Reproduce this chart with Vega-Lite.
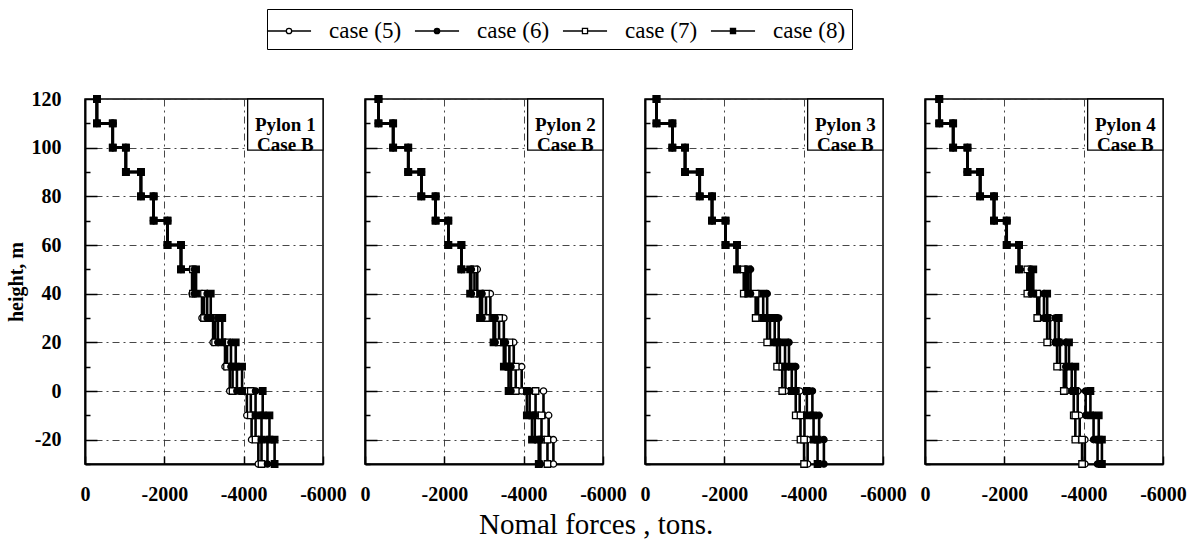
{
"$schema": "https://vega.github.io/schema/vega-lite/v6.json",
"background": "white",
"padding": {"left": 5, "top": 8, "right": 5, "bottom": 5},
"title": {"text": "Nomal forces , tons.", "orient": "bottom", "anchor": "middle", "fontSize": 29, "fontWeight": "normal", "font": "Liberation Serif", "color": "black", "offset": 6},
"config": {"font": "Liberation Serif", "view": {"stroke": "black", "strokeWidth": 1.5},
  "axis": {"labelFont": "Liberation Serif", "labelFontSize": 20, "labelFontWeight": "bold", "labelColor": "black", "titleFont": "Liberation Serif", "titleColor": "black", "domainColor": "black", "domainWidth": 2, "tickColor": "black", "tickWidth": 1.5},
  "legend": {"symbolOpacity": 1}},
"datasets": {"d": [
{"p":1,"c":"case (5)","s":1,"f":-300,"a":120,"b":110},{"p":1,"c":"case (5)","s":2,"f":-700,"a":110,"b":100},{"p":1,"c":"case (5)","s":3,"f":-1030,"a":100,"b":90},{"p":1,"c":"case (5)","s":4,"f":-1410,"a":90,"b":80},{"p":1,"c":"case (5)","s":5,"f":-1730,"a":80,"b":70},{"p":1,"c":"case (5)","s":6,"f":-2080,"a":70,"b":60},{"p":1,"c":"case (5)","s":7,"f":-2420,"a":60,"b":50},{"p":1,"c":"case (5)","s":8,"f":-2700,"a":50,"b":40},{"p":1,"c":"case (5)","s":9,"f":-2950,"a":40,"b":30},{"p":1,"c":"case (5)","s":10,"f":-3230,"a":30,"b":20},{"p":1,"c":"case (5)","s":11,"f":-3530,"a":20,"b":10},{"p":1,"c":"case (5)","s":12,"f":-3650,"a":10,"b":0},{"p":1,"c":"case (5)","s":13,"f":-4080,"a":0,"b":-10},{"p":1,"c":"case (5)","s":14,"f":-4200,"a":-10,"b":-20},{"p":1,"c":"case (5)","s":15,"f":-4370,"a":-20,"b":-30},
{"p":1,"c":"case (6)","s":1,"f":-300,"a":120,"b":110},{"p":1,"c":"case (6)","s":2,"f":-700,"a":110,"b":100},{"p":1,"c":"case (6)","s":3,"f":-1030,"a":100,"b":90},{"p":1,"c":"case (6)","s":4,"f":-1410,"a":90,"b":80},{"p":1,"c":"case (6)","s":5,"f":-1730,"a":80,"b":70},{"p":1,"c":"case (6)","s":6,"f":-2080,"a":70,"b":60},{"p":1,"c":"case (6)","s":7,"f":-2420,"a":60,"b":50},{"p":1,"c":"case (6)","s":8,"f":-2760,"a":50,"b":40},{"p":1,"c":"case (6)","s":9,"f":-3080,"a":40,"b":30},{"p":1,"c":"case (6)","s":10,"f":-3350,"a":30,"b":20},{"p":1,"c":"case (6)","s":11,"f":-3680,"a":20,"b":10},{"p":1,"c":"case (6)","s":12,"f":-3830,"a":10,"b":0},{"p":1,"c":"case (6)","s":13,"f":-4300,"a":0,"b":-10},{"p":1,"c":"case (6)","s":14,"f":-4450,"a":-10,"b":-20},{"p":1,"c":"case (6)","s":15,"f":-4600,"a":-20,"b":-30},
{"p":1,"c":"case (7)","s":1,"f":-300,"a":120,"b":110},{"p":1,"c":"case (7)","s":2,"f":-700,"a":110,"b":100},{"p":1,"c":"case (7)","s":3,"f":-1030,"a":100,"b":90},{"p":1,"c":"case (7)","s":4,"f":-1410,"a":90,"b":80},{"p":1,"c":"case (7)","s":5,"f":-1730,"a":80,"b":70},{"p":1,"c":"case (7)","s":6,"f":-2080,"a":70,"b":60},{"p":1,"c":"case (7)","s":7,"f":-2420,"a":60,"b":50},{"p":1,"c":"case (7)","s":8,"f":-2720,"a":50,"b":40},{"p":1,"c":"case (7)","s":9,"f":-3000,"a":40,"b":30},{"p":1,"c":"case (7)","s":10,"f":-3280,"a":30,"b":20},{"p":1,"c":"case (7)","s":11,"f":-3580,"a":20,"b":10},{"p":1,"c":"case (7)","s":12,"f":-3720,"a":10,"b":0},{"p":1,"c":"case (7)","s":13,"f":-4180,"a":0,"b":-10},{"p":1,"c":"case (7)","s":14,"f":-4300,"a":-10,"b":-20},{"p":1,"c":"case (7)","s":15,"f":-4450,"a":-20,"b":-30},
{"p":1,"c":"case (8)","s":1,"f":-300,"a":120,"b":110},{"p":1,"c":"case (8)","s":2,"f":-700,"a":110,"b":100},{"p":1,"c":"case (8)","s":3,"f":-1030,"a":100,"b":90},{"p":1,"c":"case (8)","s":4,"f":-1410,"a":90,"b":80},{"p":1,"c":"case (8)","s":5,"f":-1730,"a":80,"b":70},{"p":1,"c":"case (8)","s":6,"f":-2080,"a":70,"b":60},{"p":1,"c":"case (8)","s":7,"f":-2420,"a":60,"b":50},{"p":1,"c":"case (8)","s":8,"f":-2800,"a":50,"b":40},{"p":1,"c":"case (8)","s":9,"f":-3170,"a":40,"b":30},{"p":1,"c":"case (8)","s":10,"f":-3460,"a":30,"b":20},{"p":1,"c":"case (8)","s":11,"f":-3800,"a":20,"b":10},{"p":1,"c":"case (8)","s":12,"f":-3960,"a":10,"b":0},{"p":1,"c":"case (8)","s":13,"f":-4480,"a":0,"b":-10},{"p":1,"c":"case (8)","s":14,"f":-4650,"a":-10,"b":-20},{"p":1,"c":"case (8)","s":15,"f":-4780,"a":-20,"b":-30},
{"p":2,"c":"case (5)","s":1,"f":-340,"a":120,"b":110},{"p":2,"c":"case (5)","s":2,"f":-710,"a":110,"b":100},{"p":2,"c":"case (5)","s":3,"f":-1090,"a":100,"b":90},{"p":2,"c":"case (5)","s":4,"f":-1420,"a":90,"b":80},{"p":2,"c":"case (5)","s":5,"f":-1780,"a":80,"b":70},{"p":2,"c":"case (5)","s":6,"f":-2100,"a":70,"b":60},{"p":2,"c":"case (5)","s":7,"f":-2430,"a":60,"b":50},{"p":2,"c":"case (5)","s":8,"f":-2830,"a":50,"b":40},{"p":2,"c":"case (5)","s":9,"f":-3160,"a":40,"b":30},{"p":2,"c":"case (5)","s":10,"f":-3500,"a":30,"b":20},{"p":2,"c":"case (5)","s":11,"f":-3750,"a":20,"b":10},{"p":2,"c":"case (5)","s":12,"f":-3950,"a":10,"b":0},{"p":2,"c":"case (5)","s":13,"f":-4500,"a":0,"b":-10},{"p":2,"c":"case (5)","s":14,"f":-4630,"a":-10,"b":-20},{"p":2,"c":"case (5)","s":15,"f":-4750,"a":-20,"b":-30},
{"p":2,"c":"case (6)","s":1,"f":-340,"a":120,"b":110},{"p":2,"c":"case (6)","s":2,"f":-710,"a":110,"b":100},{"p":2,"c":"case (6)","s":3,"f":-1090,"a":100,"b":90},{"p":2,"c":"case (6)","s":4,"f":-1420,"a":90,"b":80},{"p":2,"c":"case (6)","s":5,"f":-1780,"a":80,"b":70},{"p":2,"c":"case (6)","s":6,"f":-2100,"a":70,"b":60},{"p":2,"c":"case (6)","s":7,"f":-2430,"a":60,"b":50},{"p":2,"c":"case (6)","s":8,"f":-2680,"a":50,"b":40},{"p":2,"c":"case (6)","s":9,"f":-2950,"a":40,"b":30},{"p":2,"c":"case (6)","s":10,"f":-3280,"a":30,"b":20},{"p":2,"c":"case (6)","s":11,"f":-3540,"a":20,"b":10},{"p":2,"c":"case (6)","s":12,"f":-3680,"a":10,"b":0},{"p":2,"c":"case (6)","s":13,"f":-4150,"a":0,"b":-10},{"p":2,"c":"case (6)","s":14,"f":-4280,"a":-10,"b":-20},{"p":2,"c":"case (6)","s":15,"f":-4420,"a":-20,"b":-30},
{"p":2,"c":"case (7)","s":1,"f":-340,"a":120,"b":110},{"p":2,"c":"case (7)","s":2,"f":-710,"a":110,"b":100},{"p":2,"c":"case (7)","s":3,"f":-1090,"a":100,"b":90},{"p":2,"c":"case (7)","s":4,"f":-1420,"a":90,"b":80},{"p":2,"c":"case (7)","s":5,"f":-1780,"a":80,"b":70},{"p":2,"c":"case (7)","s":6,"f":-2100,"a":70,"b":60},{"p":2,"c":"case (7)","s":7,"f":-2430,"a":60,"b":50},{"p":2,"c":"case (7)","s":8,"f":-2760,"a":50,"b":40},{"p":2,"c":"case (7)","s":9,"f":-3050,"a":40,"b":30},{"p":2,"c":"case (7)","s":10,"f":-3380,"a":30,"b":20},{"p":2,"c":"case (7)","s":11,"f":-3640,"a":20,"b":10},{"p":2,"c":"case (7)","s":12,"f":-3800,"a":10,"b":0},{"p":2,"c":"case (7)","s":13,"f":-4300,"a":0,"b":-10},{"p":2,"c":"case (7)","s":14,"f":-4450,"a":-10,"b":-20},{"p":2,"c":"case (7)","s":15,"f":-4600,"a":-20,"b":-30},
{"p":2,"c":"case (8)","s":1,"f":-340,"a":120,"b":110},{"p":2,"c":"case (8)","s":2,"f":-710,"a":110,"b":100},{"p":2,"c":"case (8)","s":3,"f":-1090,"a":100,"b":90},{"p":2,"c":"case (8)","s":4,"f":-1420,"a":90,"b":80},{"p":2,"c":"case (8)","s":5,"f":-1780,"a":80,"b":70},{"p":2,"c":"case (8)","s":6,"f":-2100,"a":70,"b":60},{"p":2,"c":"case (8)","s":7,"f":-2430,"a":60,"b":50},{"p":2,"c":"case (8)","s":8,"f":-2650,"a":50,"b":40},{"p":2,"c":"case (8)","s":9,"f":-2900,"a":40,"b":30},{"p":2,"c":"case (8)","s":10,"f":-3240,"a":30,"b":20},{"p":2,"c":"case (8)","s":11,"f":-3500,"a":20,"b":10},{"p":2,"c":"case (8)","s":12,"f":-3620,"a":10,"b":0},{"p":2,"c":"case (8)","s":13,"f":-4080,"a":0,"b":-10},{"p":2,"c":"case (8)","s":14,"f":-4210,"a":-10,"b":-20},{"p":2,"c":"case (8)","s":15,"f":-4380,"a":-20,"b":-30},
{"p":3,"c":"case (5)","s":1,"f":-290,"a":120,"b":110},{"p":3,"c":"case (5)","s":2,"f":-690,"a":110,"b":100},{"p":3,"c":"case (5)","s":3,"f":-1010,"a":100,"b":90},{"p":3,"c":"case (5)","s":4,"f":-1380,"a":90,"b":80},{"p":3,"c":"case (5)","s":5,"f":-1690,"a":80,"b":70},{"p":3,"c":"case (5)","s":6,"f":-2030,"a":70,"b":60},{"p":3,"c":"case (5)","s":7,"f":-2320,"a":60,"b":50},{"p":3,"c":"case (5)","s":8,"f":-2540,"a":50,"b":40},{"p":3,"c":"case (5)","s":9,"f":-2850,"a":40,"b":30},{"p":3,"c":"case (5)","s":10,"f":-3150,"a":30,"b":20},{"p":3,"c":"case (5)","s":11,"f":-3400,"a":20,"b":10},{"p":3,"c":"case (5)","s":12,"f":-3540,"a":10,"b":0},{"p":3,"c":"case (5)","s":13,"f":-3900,"a":0,"b":-10},{"p":3,"c":"case (5)","s":14,"f":-4020,"a":-10,"b":-20},{"p":3,"c":"case (5)","s":15,"f":-4100,"a":-20,"b":-30},
{"p":3,"c":"case (6)","s":1,"f":-290,"a":120,"b":110},{"p":3,"c":"case (6)","s":2,"f":-690,"a":110,"b":100},{"p":3,"c":"case (6)","s":3,"f":-1010,"a":100,"b":90},{"p":3,"c":"case (6)","s":4,"f":-1380,"a":90,"b":80},{"p":3,"c":"case (6)","s":5,"f":-1690,"a":80,"b":70},{"p":3,"c":"case (6)","s":6,"f":-2030,"a":70,"b":60},{"p":3,"c":"case (6)","s":7,"f":-2320,"a":60,"b":50},{"p":3,"c":"case (6)","s":8,"f":-2660,"a":50,"b":40},{"p":3,"c":"case (6)","s":9,"f":-3080,"a":40,"b":30},{"p":3,"c":"case (6)","s":10,"f":-3370,"a":30,"b":20},{"p":3,"c":"case (6)","s":11,"f":-3630,"a":20,"b":10},{"p":3,"c":"case (6)","s":12,"f":-3800,"a":10,"b":0},{"p":3,"c":"case (6)","s":13,"f":-4220,"a":0,"b":-10},{"p":3,"c":"case (6)","s":14,"f":-4390,"a":-10,"b":-20},{"p":3,"c":"case (6)","s":15,"f":-4510,"a":-20,"b":-30},
{"p":3,"c":"case (7)","s":1,"f":-290,"a":120,"b":110},{"p":3,"c":"case (7)","s":2,"f":-690,"a":110,"b":100},{"p":3,"c":"case (7)","s":3,"f":-1010,"a":100,"b":90},{"p":3,"c":"case (7)","s":4,"f":-1380,"a":90,"b":80},{"p":3,"c":"case (7)","s":5,"f":-1690,"a":80,"b":70},{"p":3,"c":"case (7)","s":6,"f":-2030,"a":70,"b":60},{"p":3,"c":"case (7)","s":7,"f":-2320,"a":60,"b":50},{"p":3,"c":"case (7)","s":8,"f":-2490,"a":50,"b":40},{"p":3,"c":"case (7)","s":9,"f":-2790,"a":40,"b":30},{"p":3,"c":"case (7)","s":10,"f":-3080,"a":30,"b":20},{"p":3,"c":"case (7)","s":11,"f":-3330,"a":20,"b":10},{"p":3,"c":"case (7)","s":12,"f":-3460,"a":10,"b":0},{"p":3,"c":"case (7)","s":13,"f":-3800,"a":0,"b":-10},{"p":3,"c":"case (7)","s":14,"f":-3920,"a":-10,"b":-20},{"p":3,"c":"case (7)","s":15,"f":-4010,"a":-20,"b":-30},
{"p":3,"c":"case (8)","s":1,"f":-290,"a":120,"b":110},{"p":3,"c":"case (8)","s":2,"f":-690,"a":110,"b":100},{"p":3,"c":"case (8)","s":3,"f":-1010,"a":100,"b":90},{"p":3,"c":"case (8)","s":4,"f":-1380,"a":90,"b":80},{"p":3,"c":"case (8)","s":5,"f":-1690,"a":80,"b":70},{"p":3,"c":"case (8)","s":6,"f":-2030,"a":70,"b":60},{"p":3,"c":"case (8)","s":7,"f":-2320,"a":60,"b":50},{"p":3,"c":"case (8)","s":8,"f":-2600,"a":50,"b":40},{"p":3,"c":"case (8)","s":9,"f":-2980,"a":40,"b":30},{"p":3,"c":"case (8)","s":10,"f":-3270,"a":30,"b":20},{"p":3,"c":"case (8)","s":11,"f":-3530,"a":20,"b":10},{"p":3,"c":"case (8)","s":12,"f":-3700,"a":10,"b":0},{"p":3,"c":"case (8)","s":13,"f":-4080,"a":0,"b":-10},{"p":3,"c":"case (8)","s":14,"f":-4250,"a":-10,"b":-20},{"p":3,"c":"case (8)","s":15,"f":-4350,"a":-20,"b":-30},
{"p":4,"c":"case (5)","s":1,"f":-360,"a":120,"b":110},{"p":4,"c":"case (5)","s":2,"f":-710,"a":110,"b":100},{"p":4,"c":"case (5)","s":3,"f":-1070,"a":100,"b":90},{"p":4,"c":"case (5)","s":4,"f":-1390,"a":90,"b":80},{"p":4,"c":"case (5)","s":5,"f":-1740,"a":80,"b":70},{"p":4,"c":"case (5)","s":6,"f":-2060,"a":70,"b":60},{"p":4,"c":"case (5)","s":7,"f":-2370,"a":60,"b":50},{"p":4,"c":"case (5)","s":8,"f":-2620,"a":50,"b":40},{"p":4,"c":"case (5)","s":9,"f":-2880,"a":40,"b":30},{"p":4,"c":"case (5)","s":10,"f":-3150,"a":30,"b":20},{"p":4,"c":"case (5)","s":11,"f":-3400,"a":20,"b":10},{"p":4,"c":"case (5)","s":12,"f":-3560,"a":10,"b":0},{"p":4,"c":"case (5)","s":13,"f":-3850,"a":0,"b":-10},{"p":4,"c":"case (5)","s":14,"f":-3900,"a":-10,"b":-20},{"p":4,"c":"case (5)","s":15,"f":-4030,"a":-20,"b":-30},
{"p":4,"c":"case (6)","s":1,"f":-360,"a":120,"b":110},{"p":4,"c":"case (6)","s":2,"f":-710,"a":110,"b":100},{"p":4,"c":"case (6)","s":3,"f":-1070,"a":100,"b":90},{"p":4,"c":"case (6)","s":4,"f":-1390,"a":90,"b":80},{"p":4,"c":"case (6)","s":5,"f":-1740,"a":80,"b":70},{"p":4,"c":"case (6)","s":6,"f":-2060,"a":70,"b":60},{"p":4,"c":"case (6)","s":7,"f":-2370,"a":60,"b":50},{"p":4,"c":"case (6)","s":8,"f":-2680,"a":50,"b":40},{"p":4,"c":"case (6)","s":9,"f":-3000,"a":40,"b":30},{"p":4,"c":"case (6)","s":10,"f":-3280,"a":30,"b":20},{"p":4,"c":"case (6)","s":11,"f":-3550,"a":20,"b":10},{"p":4,"c":"case (6)","s":12,"f":-3700,"a":10,"b":0},{"p":4,"c":"case (6)","s":13,"f":-4050,"a":0,"b":-10},{"p":4,"c":"case (6)","s":14,"f":-4250,"a":-10,"b":-20},{"p":4,"c":"case (6)","s":15,"f":-4350,"a":-20,"b":-30},
{"p":4,"c":"case (7)","s":1,"f":-360,"a":120,"b":110},{"p":4,"c":"case (7)","s":2,"f":-710,"a":110,"b":100},{"p":4,"c":"case (7)","s":3,"f":-1070,"a":100,"b":90},{"p":4,"c":"case (7)","s":4,"f":-1390,"a":90,"b":80},{"p":4,"c":"case (7)","s":5,"f":-1740,"a":80,"b":70},{"p":4,"c":"case (7)","s":6,"f":-2060,"a":70,"b":60},{"p":4,"c":"case (7)","s":7,"f":-2370,"a":60,"b":50},{"p":4,"c":"case (7)","s":8,"f":-2580,"a":50,"b":40},{"p":4,"c":"case (7)","s":9,"f":-2830,"a":40,"b":30},{"p":4,"c":"case (7)","s":10,"f":-3080,"a":30,"b":20},{"p":4,"c":"case (7)","s":11,"f":-3330,"a":20,"b":10},{"p":4,"c":"case (7)","s":12,"f":-3500,"a":10,"b":0},{"p":4,"c":"case (7)","s":13,"f":-3750,"a":0,"b":-10},{"p":4,"c":"case (7)","s":14,"f":-3790,"a":-10,"b":-20},{"p":4,"c":"case (7)","s":15,"f":-3960,"a":-20,"b":-30},
{"p":4,"c":"case (8)","s":1,"f":-360,"a":120,"b":110},{"p":4,"c":"case (8)","s":2,"f":-710,"a":110,"b":100},{"p":4,"c":"case (8)","s":3,"f":-1070,"a":100,"b":90},{"p":4,"c":"case (8)","s":4,"f":-1390,"a":90,"b":80},{"p":4,"c":"case (8)","s":5,"f":-1740,"a":80,"b":70},{"p":4,"c":"case (8)","s":6,"f":-2060,"a":70,"b":60},{"p":4,"c":"case (8)","s":7,"f":-2370,"a":60,"b":50},{"p":4,"c":"case (8)","s":8,"f":-2730,"a":50,"b":40},{"p":4,"c":"case (8)","s":9,"f":-3080,"a":40,"b":30},{"p":4,"c":"case (8)","s":10,"f":-3370,"a":30,"b":20},{"p":4,"c":"case (8)","s":11,"f":-3630,"a":20,"b":10},{"p":4,"c":"case (8)","s":12,"f":-3790,"a":10,"b":0},{"p":4,"c":"case (8)","s":13,"f":-4170,"a":0,"b":-10},{"p":4,"c":"case (8)","s":14,"f":-4380,"a":-10,"b":-20},{"p":4,"c":"case (8)","s":15,"f":-4460,"a":-20,"b":-30}
]},
"spacing": 42,
"bounds": "flush",
"hconcat": [
{"width": 238, "height": 365, "resolve": {"axis": {"y": "independent"}}, "layer": [
 {"data": {"name": "d"}, "transform": [{"filter": "datum.p == 1"}, {"fold": ["a", "b"], "as": ["k", "h"]}],
  "mark": {"type": "line", "color": "black", "strokeWidth": 2.6},
  "encoding": {
   "x": {"field": "f", "type": "quantitative", "scale": {"domain": [-6000, 0], "reverse": true, "nice": false, "zero": false},
    "axis": {"values": [-6000,-5000,-4000,-3000,-2000,-1000,0], "labelExpr": "datum.value % 2000 == 0 ? '' + datum.value : ''", "title": null, "grid": true, "gridColor": "#333", "gridDash": [7,4,2,4], "gridWidth": 0.9, "gridOpacity": {"condition": {"test": "datum.value == -2000 || datum.value == -4000", "value": 1}, "value": 0}, "tickSize": -8, "labelPadding": 28, "labelOverlap": false, "labelFlush": false}},
   "y": {"field": "h", "type": "quantitative", "scale": {"domain": [-30, 120], "nice": false, "zero": false},
    "axis": {"orient": "left", "values": [-20,0,20,40,60,80,100,120], "labelExpr": "'' + datum.value", "title": "height, m", "titleFontSize": 20, "titleFontWeight": "bold", "titlePadding": 5, "grid": true, "gridColor": "#333", "gridDash": [7,4,2,4], "gridWidth": 0.9, "tickSize": -12, "labelPadding": 36, "labelOverlap": false}},
   "detail": {"field": "c"},
   "order": [{"field": "s", "type": "quantitative"}, {"field": "k", "type": "nominal"}]}},
 {"data": {"name": "d"}, "transform": [{"filter": "datum.p == 1 && datum.c == 'case (5)'"}, {"fold": ["a", "b"], "as": ["k", "h"]}], "mark": {"type": "point", "shape": "circle", "filled": true, "fill": "white", "stroke": "black", "strokeWidth": 1.3, "size": 40, "opacity": 1}, "encoding": {"x": {"field": "f", "type": "quantitative"}, "y": {"field": "h", "type": "quantitative", "axis": {"orient": "left", "values": [-30,-10,10,30,50,70,90,110], "labels": false, "title": null, "grid": false, "domain": false, "tickSize": -5}}}},
 {"data": {"name": "d"}, "transform": [{"filter": "datum.p == 1 && datum.c == 'case (7)'"}, {"fold": ["a", "b"], "as": ["k", "h"]}], "mark": {"type": "point", "shape": "square", "filled": true, "fill": "white", "stroke": "black", "strokeWidth": 1.3, "size": 42, "opacity": 1}, "encoding": {"x": {"field": "f", "type": "quantitative"}, "y": {"field": "h", "type": "quantitative", "axis": null}}},
 {"data": {"name": "d"}, "transform": [{"filter": "datum.p == 1 && datum.c == 'case (6)'"}, {"fold": ["a", "b"], "as": ["k", "h"]}], "mark": {"type": "point", "shape": "circle", "filled": true, "fill": "black", "stroke": "black", "strokeWidth": 1.3, "size": 40, "opacity": 1}, "encoding": {"x": {"field": "f", "type": "quantitative"}, "y": {"field": "h", "type": "quantitative", "axis": null}}},
 {"data": {"name": "d"}, "transform": [{"filter": "datum.p == 1 && datum.c == 'case (8)'"}, {"fold": ["a", "b"], "as": ["k", "h"]}], "mark": {"type": "point", "shape": "square", "filled": true, "fill": "black", "stroke": "black", "strokeWidth": 1.3, "size": 42, "opacity": 1}, "encoding": {"x": {"field": "f", "type": "quantitative"}, "y": {"field": "h", "type": "quantitative", "axis": null}}},
 {"data": {"name": "d"}, "transform": [{"filter": "datum.p == 1"}],
  "mark": {"type": "point", "filled": false, "color": "black", "strokeWidth": 1.3, "opacity": 0},
  "encoding": {"x": {"field": "f", "type": "quantitative"}, "y": {"field": "a", "type": "quantitative", "axis": null},
   "shape": {"field": "c", "type": "nominal", "scale": {"domain": ["case (5)", "case (6)", "case (7)", "case (8)"], "range": [
     "M-1.47,0L-0.18,0M0.18,0L1.47,0M0.18,0A0.18,0.18,0,1,1,-0.18,0A0.18,0.18,0,1,1,0.18,0Z",
     "M-1.47,0L-0.18,0M0.18,0L1.47,0M0.18,0A0.18,0.18,0,1,1,-0.18,0A0.18,0.18,0,1,1,0.18,0ZM0.12,0A0.12,0.12,0,1,1,-0.12,0A0.12,0.12,0,1,1,0.12,0ZM0.06,0A0.06,0.06,0,1,1,-0.06,0A0.06,0.06,0,1,1,0.06,0Z",
     "M-1.47,0L-0.17,0M0.17,0L1.47,0M-0.17,-0.17L0.17,-0.17L0.17,0.17L-0.17,0.17Z",
     "M-1.47,0L-0.17,0M0.17,0L1.47,0M-0.17,-0.17L0.17,-0.17L0.17,0.17L-0.17,0.17ZM-0.11,-0.11L0.11,-0.11L0.11,0.11L-0.11,0.11ZM-0.05,-0.05L0.05,-0.05L0.05,0.05L-0.05,0.05Z"]},
    "legend": {"title": null, "orient": "none", "legendX": 182, "legendY": -90, "direction": "horizontal", "symbolSize": 900, "symbolStrokeWidth": 1.3, "symbolStrokeColor": "black", "symbolOpacity": 1, "labelFont": "Liberation Serif", "labelFontSize": 23, "labelColor": "black", "labelOffset": 24, "columnPadding": 10, "strokeColor": "black", "padding": 6}}}},
 {"data": {"values": [{}]}, "mark": {"type": "rect", "fill": "white", "stroke": "black", "strokeWidth": 1.3}, "encoding": {"x": {"datum": -4100, "type": "quantitative"}, "x2": {"datum": -6000}, "y": {"datum": 99, "type": "quantitative", "axis": null}, "y2": {"datum": 120}}},
 {"data": {"values": [{}]}, "mark": {"type": "text", "text": ["Pylon 1", "Case B"], "font": "Liberation Serif", "fontSize": 19, "fontWeight": "bold", "lineHeight": 20, "color": "black", "align": "center", "baseline": "middle"}, "encoding": {"x": {"datum": -5050, "type": "quantitative"}, "y": {"datum": 109.5, "type": "quantitative", "axis": null}}}
]},
{"width": 238, "height": 365, "resolve": {"axis": {"y": "independent"}}, "layer": [
 {"data": {"name": "d"}, "transform": [{"filter": "datum.p == 2"}, {"fold": ["a", "b"], "as": ["k", "h"]}],
  "mark": {"type": "line", "color": "black", "strokeWidth": 2.6},
  "encoding": {
   "x": {"field": "f", "type": "quantitative", "scale": {"domain": [-6000, 0], "reverse": true, "nice": false, "zero": false},
    "axis": {"values": [-6000,-5000,-4000,-3000,-2000,-1000,0], "labelExpr": "datum.value % 2000 == 0 ? '' + datum.value : ''", "title": null, "grid": true, "gridColor": "#333", "gridDash": [7,4,2,4], "gridWidth": 0.9, "gridOpacity": {"condition": {"test": "datum.value == -2000 || datum.value == -4000", "value": 1}, "value": 0}, "tickSize": -8, "labelPadding": 28, "labelOverlap": false, "labelFlush": false}},
   "y": {"field": "h", "type": "quantitative", "scale": {"domain": [-30, 120], "nice": false, "zero": false},
    "axis": {"orient": "left", "values": [-20,0,20,40,60,80,100,120], "labels": false, "title": null, "grid": true, "gridColor": "#333", "gridDash": [7,4,2,4], "gridWidth": 0.9, "tickSize": -12}},
   "detail": {"field": "c"},
   "order": [{"field": "s", "type": "quantitative"}, {"field": "k", "type": "nominal"}]}},
 {"data": {"name": "d"}, "transform": [{"filter": "datum.p == 2 && datum.c == 'case (5)'"}, {"fold": ["a", "b"], "as": ["k", "h"]}], "mark": {"type": "point", "shape": "circle", "filled": true, "fill": "white", "stroke": "black", "strokeWidth": 1.3, "size": 40, "opacity": 1}, "encoding": {"x": {"field": "f", "type": "quantitative"}, "y": {"field": "h", "type": "quantitative", "axis": {"orient": "left", "values": [-30,-10,10,30,50,70,90,110], "labels": false, "title": null, "grid": false, "domain": false, "tickSize": -5}}}},
 {"data": {"name": "d"}, "transform": [{"filter": "datum.p == 2 && datum.c == 'case (7)'"}, {"fold": ["a", "b"], "as": ["k", "h"]}], "mark": {"type": "point", "shape": "square", "filled": true, "fill": "white", "stroke": "black", "strokeWidth": 1.3, "size": 42, "opacity": 1}, "encoding": {"x": {"field": "f", "type": "quantitative"}, "y": {"field": "h", "type": "quantitative", "axis": null}}},
 {"data": {"name": "d"}, "transform": [{"filter": "datum.p == 2 && datum.c == 'case (6)'"}, {"fold": ["a", "b"], "as": ["k", "h"]}], "mark": {"type": "point", "shape": "circle", "filled": true, "fill": "black", "stroke": "black", "strokeWidth": 1.3, "size": 40, "opacity": 1}, "encoding": {"x": {"field": "f", "type": "quantitative"}, "y": {"field": "h", "type": "quantitative", "axis": null}}},
 {"data": {"name": "d"}, "transform": [{"filter": "datum.p == 2 && datum.c == 'case (8)'"}, {"fold": ["a", "b"], "as": ["k", "h"]}], "mark": {"type": "point", "shape": "square", "filled": true, "fill": "black", "stroke": "black", "strokeWidth": 1.3, "size": 42, "opacity": 1}, "encoding": {"x": {"field": "f", "type": "quantitative"}, "y": {"field": "h", "type": "quantitative", "axis": null}}},
 {"data": {"values": [{}]}, "mark": {"type": "rect", "fill": "white", "stroke": "black", "strokeWidth": 1.3}, "encoding": {"x": {"datum": -4100, "type": "quantitative"}, "x2": {"datum": -6000}, "y": {"datum": 99, "type": "quantitative", "axis": null}, "y2": {"datum": 120}}},
 {"data": {"values": [{}]}, "mark": {"type": "text", "text": ["Pylon 2", "Case B"], "font": "Liberation Serif", "fontSize": 19, "fontWeight": "bold", "lineHeight": 20, "color": "black", "align": "center", "baseline": "middle"}, "encoding": {"x": {"datum": -5050, "type": "quantitative"}, "y": {"datum": 109.5, "type": "quantitative", "axis": null}}}
]},
{"width": 238, "height": 365, "resolve": {"axis": {"y": "independent"}}, "layer": [
 {"data": {"name": "d"}, "transform": [{"filter": "datum.p == 3"}, {"fold": ["a", "b"], "as": ["k", "h"]}],
  "mark": {"type": "line", "color": "black", "strokeWidth": 2.6},
  "encoding": {
   "x": {"field": "f", "type": "quantitative", "scale": {"domain": [-6000, 0], "reverse": true, "nice": false, "zero": false},
    "axis": {"values": [-6000,-5000,-4000,-3000,-2000,-1000,0], "labelExpr": "datum.value % 2000 == 0 ? '' + datum.value : ''", "title": null, "grid": true, "gridColor": "#333", "gridDash": [7,4,2,4], "gridWidth": 0.9, "gridOpacity": {"condition": {"test": "datum.value == -2000 || datum.value == -4000", "value": 1}, "value": 0}, "tickSize": -8, "labelPadding": 28, "labelOverlap": false, "labelFlush": false}},
   "y": {"field": "h", "type": "quantitative", "scale": {"domain": [-30, 120], "nice": false, "zero": false},
    "axis": {"orient": "left", "values": [-20,0,20,40,60,80,100,120], "labels": false, "title": null, "grid": true, "gridColor": "#333", "gridDash": [7,4,2,4], "gridWidth": 0.9, "tickSize": -12}},
   "detail": {"field": "c"},
   "order": [{"field": "s", "type": "quantitative"}, {"field": "k", "type": "nominal"}]}},
 {"data": {"name": "d"}, "transform": [{"filter": "datum.p == 3 && datum.c == 'case (5)'"}, {"fold": ["a", "b"], "as": ["k", "h"]}], "mark": {"type": "point", "shape": "circle", "filled": true, "fill": "white", "stroke": "black", "strokeWidth": 1.3, "size": 40, "opacity": 1}, "encoding": {"x": {"field": "f", "type": "quantitative"}, "y": {"field": "h", "type": "quantitative", "axis": {"orient": "left", "values": [-30,-10,10,30,50,70,90,110], "labels": false, "title": null, "grid": false, "domain": false, "tickSize": -5}}}},
 {"data": {"name": "d"}, "transform": [{"filter": "datum.p == 3 && datum.c == 'case (7)'"}, {"fold": ["a", "b"], "as": ["k", "h"]}], "mark": {"type": "point", "shape": "square", "filled": true, "fill": "white", "stroke": "black", "strokeWidth": 1.3, "size": 42, "opacity": 1}, "encoding": {"x": {"field": "f", "type": "quantitative"}, "y": {"field": "h", "type": "quantitative", "axis": null}}},
 {"data": {"name": "d"}, "transform": [{"filter": "datum.p == 3 && datum.c == 'case (6)'"}, {"fold": ["a", "b"], "as": ["k", "h"]}], "mark": {"type": "point", "shape": "circle", "filled": true, "fill": "black", "stroke": "black", "strokeWidth": 1.3, "size": 40, "opacity": 1}, "encoding": {"x": {"field": "f", "type": "quantitative"}, "y": {"field": "h", "type": "quantitative", "axis": null}}},
 {"data": {"name": "d"}, "transform": [{"filter": "datum.p == 3 && datum.c == 'case (8)'"}, {"fold": ["a", "b"], "as": ["k", "h"]}], "mark": {"type": "point", "shape": "square", "filled": true, "fill": "black", "stroke": "black", "strokeWidth": 1.3, "size": 42, "opacity": 1}, "encoding": {"x": {"field": "f", "type": "quantitative"}, "y": {"field": "h", "type": "quantitative", "axis": null}}},
 {"data": {"values": [{}]}, "mark": {"type": "rect", "fill": "white", "stroke": "black", "strokeWidth": 1.3}, "encoding": {"x": {"datum": -4100, "type": "quantitative"}, "x2": {"datum": -6000}, "y": {"datum": 99, "type": "quantitative", "axis": null}, "y2": {"datum": 120}}},
 {"data": {"values": [{}]}, "mark": {"type": "text", "text": ["Pylon 3", "Case B"], "font": "Liberation Serif", "fontSize": 19, "fontWeight": "bold", "lineHeight": 20, "color": "black", "align": "center", "baseline": "middle"}, "encoding": {"x": {"datum": -5050, "type": "quantitative"}, "y": {"datum": 109.5, "type": "quantitative", "axis": null}}}
]},
{"width": 238, "height": 365, "resolve": {"axis": {"y": "independent"}}, "layer": [
 {"data": {"name": "d"}, "transform": [{"filter": "datum.p == 4"}, {"fold": ["a", "b"], "as": ["k", "h"]}],
  "mark": {"type": "line", "color": "black", "strokeWidth": 2.6},
  "encoding": {
   "x": {"field": "f", "type": "quantitative", "scale": {"domain": [-6000, 0], "reverse": true, "nice": false, "zero": false},
    "axis": {"values": [-6000,-5000,-4000,-3000,-2000,-1000,0], "labelExpr": "datum.value % 2000 == 0 ? '' + datum.value : ''", "title": null, "grid": true, "gridColor": "#333", "gridDash": [7,4,2,4], "gridWidth": 0.9, "gridOpacity": {"condition": {"test": "datum.value == -2000 || datum.value == -4000", "value": 1}, "value": 0}, "tickSize": -8, "labelPadding": 28, "labelOverlap": false, "labelFlush": false}},
   "y": {"field": "h", "type": "quantitative", "scale": {"domain": [-30, 120], "nice": false, "zero": false},
    "axis": {"orient": "left", "values": [-20,0,20,40,60,80,100,120], "labels": false, "title": null, "grid": true, "gridColor": "#333", "gridDash": [7,4,2,4], "gridWidth": 0.9, "tickSize": -12}},
   "detail": {"field": "c"},
   "order": [{"field": "s", "type": "quantitative"}, {"field": "k", "type": "nominal"}]}},
 {"data": {"name": "d"}, "transform": [{"filter": "datum.p == 4 && datum.c == 'case (5)'"}, {"fold": ["a", "b"], "as": ["k", "h"]}], "mark": {"type": "point", "shape": "circle", "filled": true, "fill": "white", "stroke": "black", "strokeWidth": 1.3, "size": 40, "opacity": 1}, "encoding": {"x": {"field": "f", "type": "quantitative"}, "y": {"field": "h", "type": "quantitative", "axis": {"orient": "left", "values": [-30,-10,10,30,50,70,90,110], "labels": false, "title": null, "grid": false, "domain": false, "tickSize": -5}}}},
 {"data": {"name": "d"}, "transform": [{"filter": "datum.p == 4 && datum.c == 'case (7)'"}, {"fold": ["a", "b"], "as": ["k", "h"]}], "mark": {"type": "point", "shape": "square", "filled": true, "fill": "white", "stroke": "black", "strokeWidth": 1.3, "size": 42, "opacity": 1}, "encoding": {"x": {"field": "f", "type": "quantitative"}, "y": {"field": "h", "type": "quantitative", "axis": null}}},
 {"data": {"name": "d"}, "transform": [{"filter": "datum.p == 4 && datum.c == 'case (6)'"}, {"fold": ["a", "b"], "as": ["k", "h"]}], "mark": {"type": "point", "shape": "circle", "filled": true, "fill": "black", "stroke": "black", "strokeWidth": 1.3, "size": 40, "opacity": 1}, "encoding": {"x": {"field": "f", "type": "quantitative"}, "y": {"field": "h", "type": "quantitative", "axis": null}}},
 {"data": {"name": "d"}, "transform": [{"filter": "datum.p == 4 && datum.c == 'case (8)'"}, {"fold": ["a", "b"], "as": ["k", "h"]}], "mark": {"type": "point", "shape": "square", "filled": true, "fill": "black", "stroke": "black", "strokeWidth": 1.3, "size": 42, "opacity": 1}, "encoding": {"x": {"field": "f", "type": "quantitative"}, "y": {"field": "h", "type": "quantitative", "axis": null}}},
 {"data": {"values": [{}]}, "mark": {"type": "rect", "fill": "white", "stroke": "black", "strokeWidth": 1.3}, "encoding": {"x": {"datum": -4100, "type": "quantitative"}, "x2": {"datum": -6000}, "y": {"datum": 99, "type": "quantitative", "axis": null}, "y2": {"datum": 120}}},
 {"data": {"values": [{}]}, "mark": {"type": "text", "text": ["Pylon 4", "Case B"], "font": "Liberation Serif", "fontSize": 19, "fontWeight": "bold", "lineHeight": 20, "color": "black", "align": "center", "baseline": "middle"}, "encoding": {"x": {"datum": -5050, "type": "quantitative"}, "y": {"datum": 109.5, "type": "quantitative", "axis": null}}}
]}
]
}
